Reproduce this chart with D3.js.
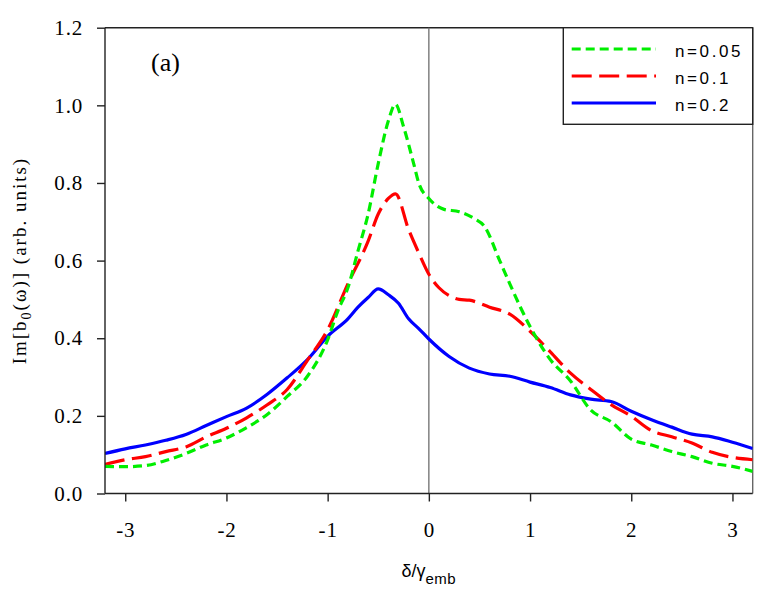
<!DOCTYPE html>
<html>
<head>
<meta charset="utf-8">
<script src="https://cdn.jsdelivr.net/npm/d3@7"></script>
<style>
  html, body { margin: 0; padding: 0; background: #fff; }
  svg { display: block; }
  .serif { font-family: "Liberation Serif", "Times New Roman", Times, "DejaVu Serif", serif; }
  .sans { font-family: "Liberation Sans", Arial, Helvetica, "DejaVu Sans", sans-serif; }
</style>
</head>
<body>
<svg id="chart" width="781" height="597"></svg>
<script>
// ---- data ----
const seriesNames = ["n=0.05", "n=0.1", "n=0.2"];

const xGreen = [-3.2, -3.0, -2.8, -2.6, -2.4, -2.2, -2.0, -1.8, -1.6, -1.4, -1.2, -1.0, -0.9, -0.8, -0.7, -0.6, -0.5, -0.4, -0.33, -0.25, -0.15, -0.1, 0.0, 0.15, 0.3, 0.45, 0.55, 0.7, 0.8, 1.0, 1.2, 1.4, 1.6, 1.8, 2.0, 2.2, 2.4, 2.6, 2.8, 3.0, 3.2];
const yGreen = [0.070, 0.069, 0.072, 0.085, 0.103, 0.125, 0.143, 0.170, 0.203, 0.250, 0.302, 0.396, 0.470, 0.530, 0.625, 0.720, 0.850, 0.960, 1.003, 0.945, 0.850, 0.800, 0.760, 0.732, 0.726, 0.708, 0.688, 0.600, 0.540, 0.430, 0.345, 0.290, 0.215, 0.185, 0.140, 0.125, 0.108, 0.095, 0.078, 0.070, 0.057];

const xRed = [-3.2, -3.0, -2.8, -2.6, -2.4, -2.2, -2.0, -1.8, -1.6, -1.4, -1.2, -1.0, -0.8, -0.6, -0.5, -0.4, -0.33, -0.2, -0.1, 0.0, 0.1, 0.2, 0.3, 0.4, 0.6, 0.8, 1.0, 1.2, 1.4, 1.6, 1.8, 2.0, 2.2, 2.4, 2.6, 2.8, 3.0, 3.2];
const yRed = [0.075, 0.087, 0.095, 0.108, 0.120, 0.146, 0.168, 0.195, 0.228, 0.268, 0.343, 0.422, 0.540, 0.650, 0.720, 0.760, 0.772, 0.680, 0.620, 0.565, 0.530, 0.510, 0.500, 0.498, 0.480, 0.462, 0.418, 0.365, 0.310, 0.268, 0.229, 0.199, 0.162, 0.146, 0.130, 0.106, 0.093, 0.087];

const xBlue = [-3.2, -3.0, -2.8, -2.6, -2.4, -2.2, -2.0, -1.8, -1.6, -1.4, -1.2, -1.0, -0.8, -0.7, -0.6, -0.5, -0.4, -0.3, -0.2, -0.1, 0.0, 0.2, 0.4, 0.6, 0.8, 1.0, 1.2, 1.4, 1.6, 1.8, 2.0, 2.2, 2.4, 2.6, 2.8, 3.0, 3.2];
const yBlue = [0.103, 0.115, 0.125, 0.137, 0.152, 0.175, 0.198, 0.220, 0.255, 0.298, 0.345, 0.405, 0.450, 0.480, 0.505, 0.527, 0.512, 0.490, 0.450, 0.425, 0.398, 0.353, 0.323, 0.308, 0.302, 0.287, 0.273, 0.254, 0.243, 0.237, 0.212, 0.190, 0.171, 0.153, 0.146, 0.132, 0.116];

const xTicks = [-3, -2, -1, 0, 1, 2, 3];
const yTicks = [0.0, 0.2, 0.4, 0.6, 0.8, 1.0, 1.2];

// ---- layout ----
const svg = d3.select("#chart");
const L = 105, R = 752.7, T = 27.7, B = 493.5;
const x = d3.scaleLinear().domain([-3.2, 3.2]).range([L, R]);
const y = d3.scaleLinear().domain([0, 1.2]).range([B, T]);

const styles = [
  { color: "#00ee00", dash: "9,5" },
  { color: "#ff0000", dash: "20,7.5" },
  { color: "#0000ff", dash: null }
];
const series = [
  xGreen.map((v, i) => [v, yGreen[i]]),
  xRed.map((v, i) => [v, yRed[i]]),
  xBlue.map((v, i) => [v, yBlue[i]])
];

// frame: top & right
svg.append("line").attr("x1", L).attr("x2", R).attr("y1", T).attr("y2", T)
  .attr("stroke", "#222").attr("stroke-width", 1.4);
svg.append("line").attr("x1", R).attr("x2", R).attr("y1", T).attr("y2", B)
  .attr("stroke", "#666").attr("stroke-width", 1.4);

// zero line
svg.append("line").attr("x1", x(0)).attr("x2", x(0)).attr("y1", T).attr("y2", B)
  .attr("stroke", "#777").attr("stroke-width", 1.4);

// curves
const line = d3.line().x(d => x(d[0])).y(d => y(d[1])).curve(d3.curveMonotoneX);
svg.append("clipPath").attr("id", "plotclip").append("rect")
  .attr("x", L).attr("y", T).attr("width", R - L).attr("height", B - T);
const gCurves = svg.append("g").attr("clip-path", "url(#plotclip)");
[2, 1, 0].forEach(i => {
  gCurves.append("path").datum(series[i])
    .attr("d", line)
    .attr("fill", "none")
    .attr("stroke", styles[i].color)
    .attr("stroke-width", 3.2)
    .attr("stroke-dasharray", styles[i].dash)
    .attr("stroke-linejoin", "round");
});

// axes
const fmtX = d => String(d);            // hyphen-minus like the reference
const fmtY = d => d.toFixed(1);
const xAxis = svg.append("g").attr("transform", `translate(0,${B})`)
  .call(d3.axisBottom(x).tickValues(xTicks).tickSize(8).tickPadding(21).tickFormat(fmtX));
const yAxis = svg.append("g").attr("transform", `translate(${L},0)`)
  .call(d3.axisLeft(y).tickValues(yTicks).tickSize(8).tickPadding(14).tickFormat(fmtY));
[xAxis, yAxis].forEach(g => {
  g.attr("font-family", null).attr("font-size", null);
  g.select(".domain").attr("stroke", "#222").attr("stroke-width", 1.4);
  g.selectAll(".tick line").attr("stroke", "#222").attr("stroke-width", 1.4);
  g.selectAll(".tick text")
    .attr("class", "serif")
    .attr("fill", "#000")
    .style("font-size", "21px")
    .style("letter-spacing", "0.8px");
});
xAxis.select(".domain").attr("d", `M${L},0H${R}`);
yAxis.select(".domain").attr("d", `M0,${B}V${T}`);

// (a) label
svg.append("text").attr("class", "serif").attr("x", 151).attr("y", 71)
  .style("font-size", "26px")
  .text("(a)");

// legend
const lg = svg.append("g");
lg.append("rect").attr("x", 563.3).attr("y", T).attr("width", R - 563.3).attr("height", 124.3 - T)
  .attr("fill", "#fff").attr("stroke", "#222").attr("stroke-width", 1.4);
const legendRowsY = [49, 76, 103];
seriesNames.forEach((name, i) => {
  lg.append("line").attr("x1", 571.7).attr("x2", 656)
    .attr("y1", legendRowsY[i]).attr("y2", legendRowsY[i])
    .attr("stroke", styles[i].color).attr("stroke-width", 3.2)
    .attr("stroke-dasharray", styles[i].dash);
  lg.append("text").attr("class", "sans").attr("x", 675).attr("y", legendRowsY[i] + 7.5)
    .style("font-size", "17px")
    .style("letter-spacing", "2.6px")
    .text(name);
});

// y axis title
const yt = svg.append("text").attr("class", "serif")
  .attr("transform", `translate(26,${(T + B) / 2}) rotate(-90)`)
  .attr("text-anchor", "middle")
  .style("font-size", "19px")
  .style("letter-spacing", "2px");
yt.append("tspan").text("Im[b");
yt.append("tspan").attr("dy", 5).style("font-size", "14px").text("0");
yt.append("tspan").attr("dy", -5).text("(ω)] (arb. units)");

// x axis title
const xt = svg.append("text").attr("class", "sans")
  .attr("x", (L + R) / 2).attr("y", 577)
  .attr("text-anchor", "middle")
  .style("font-size", "18px");
xt.append("tspan").text("δ/γ");
xt.append("tspan").attr("dy", 7).style("font-size", "15px").style("letter-spacing", "0.5px").text("emb");
</script>
</body>
</html>
